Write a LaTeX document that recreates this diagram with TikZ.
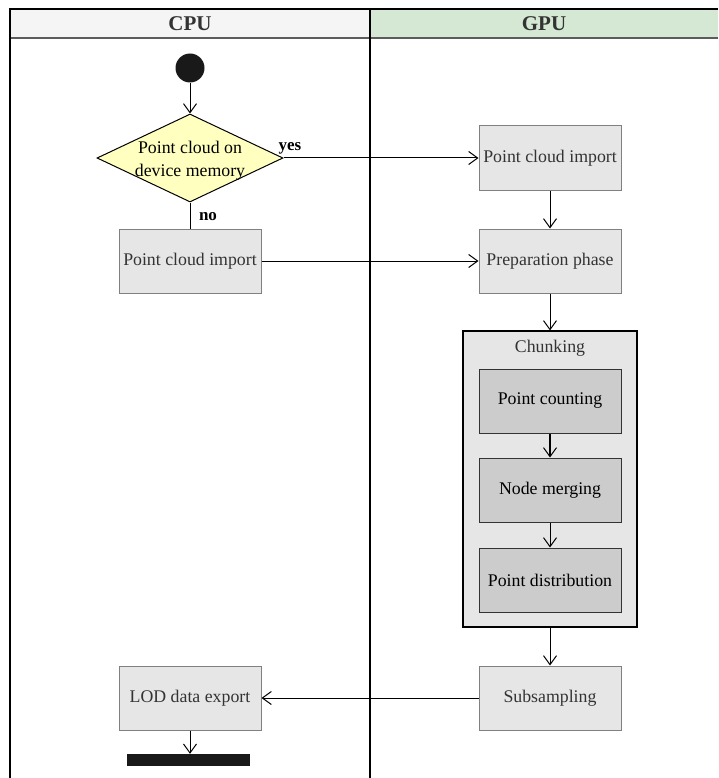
\documentclass[tikz,border=0pt]{standalone}
\usepackage{fontspec}
\setmainfont{Liberation Serif}
\usetikzlibrary{arrows.meta,shapes.geometric}
\definecolor{cpuhead}{HTML}{F5F5F5}
\definecolor{gpuhead}{HTML}{D5E8D4}
\definecolor{boxfill}{HTML}{E6E6E6}
\definecolor{subfill}{HTML}{CCCCCC}
\definecolor{boxline}{HTML}{808080}
\definecolor{txt}{HTML}{333333}
\definecolor{decfill}{HTML}{FFFFC0}
\tikzset{
  flow/.style={draw=black, line width=1pt, -{Straight Barb[length=9pt,width=13pt,line width=1pt]}},
  plain/.style={draw=black, line width=1pt},
  action/.style={rectangle, draw=boxline, fill=boxfill, line width=1pt,
    minimum width=142pt, minimum height=64pt, inner sep=0pt,
    text=txt, font=\fontsize{17.8}{21}\selectfont},
  subaction/.style={rectangle, draw=txt, fill=subfill, line width=1pt,
    minimum width=142pt, minimum height=64pt, inner sep=0pt,
    text=black, font=\fontsize{17.8}{21}\selectfont},
  decision/.style={diamond, draw=black, fill=decfill, line width=1pt,
    minimum width=186pt, minimum height=88pt, inner sep=0pt},
  dectext/.style={align=center, text=black, inner sep=0pt,
    font=\fontsize{17.8}{23}\selectfont},
  guard/.style={font=\bfseries\fontsize{17}{20}\selectfont, text=black, inner sep=0pt},
  lanehead/.style={font=\bfseries\fontsize{21}{24}\selectfont, text=txt},
  group/.style={rectangle, draw=black, fill=boxfill, line width=1.1pt, inner sep=0pt},
}
\begin{document}
\begin{tikzpicture}[x=1pt,y=-1pt]
\useasboundingbox (0,0) rectangle (718,778);

% swimlane frame
\fill[cpuhead] (10,9) rectangle (370,38);
\fill[gpuhead] (370,9) rectangle (718,38);
\draw[line width=2pt, draw=txt!80] (10,38) -- (718,38);
\draw[line width=1.2pt, draw=black] (10,778) -- (10,9) -- (718,9);
\draw[line width=1.5pt, draw=black] (370,9) -- (370,778);
\node[lanehead] (cpu) at (190,24) {CPU};
\node[lanehead] (gpu) at (544,24) {GPU};

% start and decision
\node[circle, fill=black!90, minimum size=29pt, inner sep=0pt] (start) at (190,68) {};
\node[decision] (dec) at (190,158) {};
\node[dectext] (dectxt) at (190,161) {Point cloud on\\device memory};
\node[guard] (yes) at (290,148) {yes};
\node[guard] (no) at (208,217) {no};

% actions
\node[action] (cpuimport) at (190,261) {Point cloud import};
\node[action] (gpuimport) at (550,158) {Point cloud import};
\node[action] (prep) at (550,261) {Preparation phase};

% chunking group
\node[group, minimum width=174pt, minimum height=296pt] (chunk) at (550,479) {};
\node[text=txt, font=\fontsize{17.8}{21}\selectfont] (chunklbl) at (550,348) {Chunking};
\node[subaction] (count) at (550,401) {Point counting};
\node[subaction] (merge) at (550,490) {Node merging};
\node[subaction] (dist) at (550,580) {Point distribution};

\node[action] (sub) at (550,698) {Subsampling};
\node[action] (lod) at (190,698) {LOD data export};
\node[rectangle, fill=black!90, minimum width=123pt, minimum height=12pt, inner sep=0pt] (final) at (188,760) {};

% control flow
\draw[flow] (start) -- (dec.north);
\draw[flow] (dec.east) -- (gpuimport.west);
\draw[plain] (dec.south) -- (cpuimport.north);
\draw[flow] (cpuimport.east) -- (prep.west);
\draw[flow] (gpuimport) -- (prep);
\draw[flow] (prep) -- (chunk.north);
\draw[flow, line width=1.5pt] (count) -- (merge);
\draw[flow] (merge) -- (dist);
\draw[flow] (chunk.south) -- (sub);
\draw[flow] (sub) -- (lod);
\draw[flow] (lod.south) -- (lod.south |- final.north);
\end{tikzpicture}
\end{document}
